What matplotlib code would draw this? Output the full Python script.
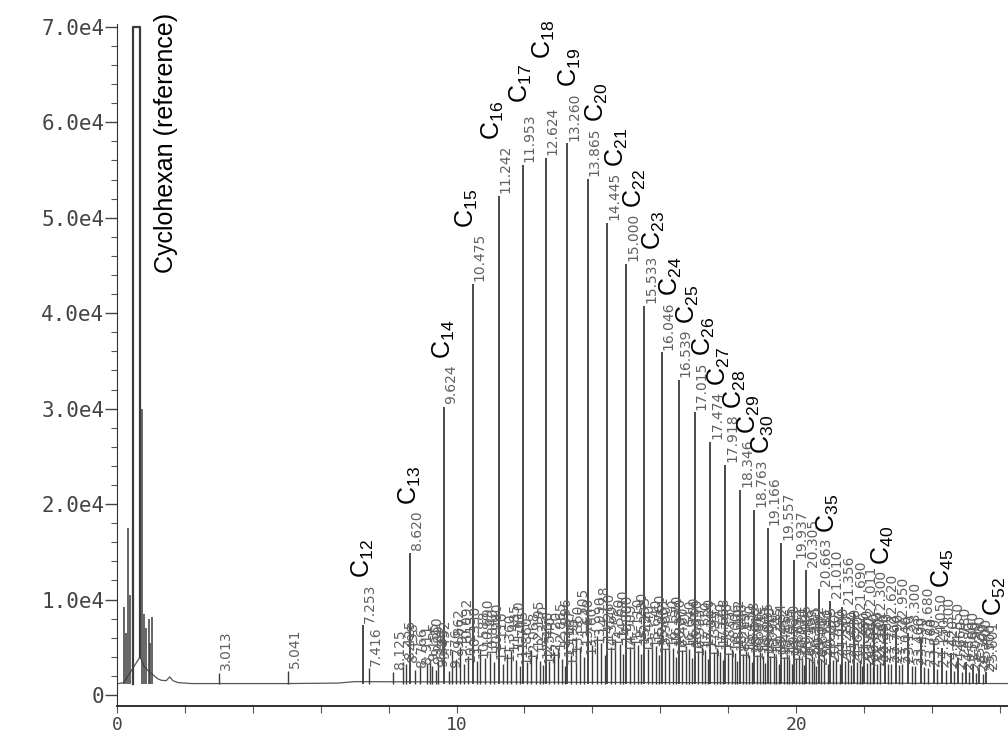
import numpy as np
import matplotlib.pyplot as plt
import matplotlib.ticker as mticker

plt.rcParams['mathtext.default'] = 'regular'

# n-alkane peaks: carbon number, retention time (min), peak height (counts)
alk_n = list(range(12, 53))
alk_t = [7.253, 8.620, 9.624, 10.475, 11.242, 11.953, 12.624, 13.260, 13.865, 14.445,
         15.000, 15.533, 16.046, 16.539, 17.015, 17.474, 17.918, 18.346, 18.763, 19.166,
         19.557, 19.937, 20.305, 20.663, 21.010, 21.356, 21.690, 22.011, 22.300, 22.620,
         22.950, 23.300, 23.680, 24.050, 24.300, 24.550, 24.780, 25.000, 25.200, 25.400,
         25.601]
alk_h = [7300, 14900, 30200, 43100, 52300, 55500, 56300, 57800, 54100, 49500,
         45200, 40800, 35900, 33000, 29600, 26500, 24100, 21500, 19400, 17500,
         15900, 14100, 13100, 11100, 9900, 9200, 8700, 8200, 7800, 7400,
         7000, 6500, 6000, 5400, 4900, 4400, 3900, 3500, 3100, 2700,
         2400]
labelled_n = list(range(12, 31)) + [35, 40, 45, 52]

# small (branched / unresolved) peaks between the alkanes
minor_t = [3.013, 5.041, 7.416, 8.125, 8.425, 8.498,
           8.766, 8.911, 9.135, 9.210, 9.289, 9.395, 9.452,
           9.776, 9.862, 9.977, 10.092, 10.213, 10.330,
           10.588, 10.690, 10.840, 10.980, 11.110,
           11.360, 11.485, 11.610, 11.745, 11.860,
           12.068, 12.195, 12.330, 12.456, 12.540,
           12.720, 12.865, 12.996, 13.107, 13.195,
           13.360, 13.505, 13.640, 13.760,
           13.990, 14.128, 14.260, 14.360,
           14.560, 14.680, 14.800, 14.909,
           15.110, 15.230, 15.335, 15.440,
           15.640, 15.760, 15.861, 15.960,
           16.150, 16.270, 16.370, 16.460,
           16.640, 16.760, 16.850, 16.935,
           17.110, 17.220, 17.305, 17.395,
           17.570, 17.668, 17.750, 17.835,
           18.006, 18.102, 18.186, 18.265,
           18.430, 18.528, 18.612, 18.690,
           18.845, 18.935, 19.015, 19.090,
           19.245, 19.334, 19.412, 19.485,
           19.635, 19.720, 19.795, 19.865,
           20.010, 20.095, 20.168, 20.235,
           20.380, 20.462, 20.535, 20.600,
           20.740, 20.825, 20.940,
           21.090, 21.180, 21.280,
           21.440, 21.530, 21.620,
           21.780, 21.870, 21.950,
           22.090, 22.180, 22.250,
           22.390, 22.480, 22.700, 22.790, 23.040, 23.130, 23.400, 23.490,
           23.780, 23.870, 24.150, 24.420, 24.660, 24.880, 25.090, 25.300, 25.500]
minor_h = [2300, 2500, 2800, 2400, 3500, 3200,
           2600, 3000, 3300, 3800, 3000, 2600, 3500,
           2500, 4600, 3800, 5000, 3200, 4100,
           3600, 4800, 3900, 4400, 3500,
           3300, 4300, 4600, 3700, 3000,
           3500, 4700, 4200, 3600, 3100,
           3600, 4500, 4900, 3800, 3000,
           4200, 6000, 5000, 4000,
           5200, 6200, 5500, 4200,
           5000, 5800, 5300, 4300,
           5000, 5600, 5200, 4300,
           4800, 5400, 5100, 4200,
           4800, 5300, 4900, 4000,
           4700, 5100, 4800, 3900,
           4600, 5000, 4700, 3800,
           4500, 4900, 4500, 3700,
           4400, 4800, 4400, 3600,
           4300, 4600, 4200, 3500,
           4200, 4500, 4100, 3400,
           4100, 4400, 4000, 3300,
           4000, 4300, 3900, 3200,
           3900, 4200, 3800, 3100,
           3900, 4100, 3700, 3000,
           3800, 4000, 3300,
           3700, 3900, 3200,
           3600, 3800, 3100,
           3500, 3700, 3000,
           3400, 3500, 2900,
           3300, 3400, 3200, 3300, 3100, 3200, 3000, 3000,
           2900, 2800, 2700, 2600, 2500, 2400, 2400, 2300, 2200]

# early peaks around the solvent
early_t = [0.22, 0.27, 0.33, 0.38, 0.74, 0.80, 0.86, 0.93, 0.98, 1.04]
early_h = [9200, 6500, 17500, 10500, 30000, 8500, 7000, 8000, 5500, 8200]

# cyclohexane reference peak (off scale)
cyclo_t = [0.46, 0.46, 0.68, 0.68]
cyclo_h = [1200, 70000, 70000, 4000]

# baseline trace
trace_t = [0.05, 0.20, 0.68, 0.80, 0.90, 1.00, 1.10, 1.20, 1.30, 1.45, 1.55, 1.65, 1.80,
           2.20, 3.00, 5.00, 6.50, 7.00, 26.3]
trace_v = [1200, 1300, 4000, 3000, 2600, 2300, 2000, 1700, 1550, 1500, 1900, 1500, 1300,
           1200, 1200, 1200, 1250, 1400, 1200]
base = 1200

y_ticks = [0, 10000, 20000, 30000, 40000, 50000, 60000, 70000]
y_labels = ['0', '1.0e4', '2.0e4', '3.0e4', '4.0e4', '5.0e4', '6.0e4', '7.0e4']
x_ticks = [0, 10, 20]
x_labels = ['0', '10', '20']

fig = plt.figure(figsize=(10.08, 7.33), dpi=100)
ax = fig.add_axes([117 / 1008, 27 / 733, 891 / 1008, 682 / 733])
ax.set_xlim(0, 26.24)
ax.set_ylim(-1150, 70300)

peak_col = '#3c3c3c'
ax.plot(trace_t, trace_v, color='#555555', lw=0.9)
ax.plot(cyclo_t, cyclo_h, color=peak_col, lw=1.6, clip_on=False)
ax.vlines(early_t, base, early_h, color=peak_col, lw=1.1)
ax.vlines(minor_t, base, minor_h, color=peak_col, lw=1.0)
ax.vlines(alk_t, base, alk_h, color=peak_col, lw=1.3)

# retention time labels on every peak
lab_kw = dict(textcoords='offset points', rotation=90, ha='left', va='bottom',
              fontsize=10, color='#606060', family='DejaVu Sans')
for t, h in zip(minor_t, minor_h):
    ax.annotate(f'{t:.3f}', xy=(t, h), xytext=(0, 2), **lab_kw)
rt_text = {}
for n, t, h in zip(alk_n, alk_t, alk_h):
    rt_text[n] = ax.annotate(f'{t:.3f}', xy=(t, h), xytext=(0, 2), **lab_kw)

# carbon number labels above the retention labels
fig.canvas.draw()
renderer = fig.canvas.get_renderer()
nudge_up = {17: 6, 18: 42}
for n in labelled_n:
    i = alk_n.index(n)
    bb = rt_text[n].get_window_extent(renderer)
    if n in (15, 16):
        dx = -6
    elif n in (17, 18):
        dx = -2
    elif n == 19:
        dx = 3
    elif n >= 20:
        dx = 9
    else:
        dx = 0
    x_disp = ax.transData.transform((alk_t[i], 0))[0] + dx
    y_disp = bb.y1 + 5 + nudge_up.get(n, 0)
    x, y = ax.transData.inverted().transform((x_disp, y_disp))
    ax.text(x, y, f'C$_{{{n}}}$', rotation=90, ha='center', va='bottom', clip_on=False,
            fontsize=18, family=['Liberation Sans', 'DejaVu Sans'], color='black')

ax.text(1.45, 71500, 'Cyclohexan (reference)', rotation=90, ha='center', va='top',
        fontsize=18, family=['Liberation Sans', 'DejaVu Sans'], color='black', clip_on=False)

# axes styling
for s in ['top', 'right']:
    ax.spines[s].set_visible(False)
ax.spines['left'].set_color('#333333')
ax.spines['bottom'].set_color('#222222')
ax.spines['bottom'].set_linewidth(1.3)
ax.set_yticks(y_ticks)
ax.set_yticklabels(y_labels)
ax.yaxis.set_minor_locator(mticker.MultipleLocator(2000))
ax.set_xticks(x_ticks)
ax.set_xticklabels(x_labels)
ax.xaxis.set_minor_locator(mticker.MultipleLocator(2))
ax.tick_params(axis='y', which='major', length=9, width=1.0, pad=0, color='#444444',
               labelsize=15, labelcolor='#444444')
ax.tick_params(axis='y', which='minor', length=4, width=0.8, color='#555555')
ax.tick_params(axis='x', which='both', length=5, width=0.8, color='#555555',
               labelsize=13, labelcolor='#444444', pad=2)
for lab in ax.get_xticklabels() + ax.get_yticklabels():
    lab.set_family('DejaVu Sans Mono')

fig.savefig('out.png', dpi=100)
